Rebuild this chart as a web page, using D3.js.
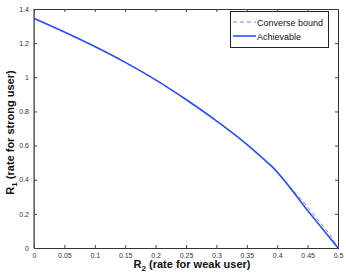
<!DOCTYPE html>
<html><head><meta charset="utf-8">
<script src="https://cdn.jsdelivr.net/npm/d3@7"></script>
<style>body{margin:0;background:#fff}svg{display:block}text{font-family:"Liberation Sans",Arial,sans-serif}</style>
</head><body>
<svg id="c" width="346" height="274"></svg>
<script>
const xTicks = [0,0.05,0.1,0.15,0.2,0.25,0.3,0.35,0.4,0.45,0.5];
const yTicks = [0,0.2,0.4,0.6,0.8,1,1.2,1.4];
const achX = [0,0.05,0.1,0.15,0.2,0.25,0.3,0.35,0.375,0.392,0.45,0.5];
const achY = [1.345,1.265,1.18,1.0875,0.985,0.87,0.745,0.6075,0.53,0.475,0.22,0];
const convX = [0,0.05,0.1,0.15,0.2,0.25,0.3,0.35,0.375,0.392,0.41,0.43,0.45,0.47,0.49,0.5];
const convY = [1.345,1.265,1.18,1.0875,0.985,0.87,0.745,0.6075,0.53,0.475,0.402,0.322,0.24,0.152,0.06,0];
const legendLabels = ["Converse bound","Achievable"];

const svg = d3.select("#c");
const L=34, R=338, T=9, B=248;
const x = d3.scaleLinear().domain([0,0.5]).range([L,R]);
const y = d3.scaleLinear().domain([0,1.4]).range([B,T]);

// frame
svg.append("rect").attr("x",L).attr("y",T).attr("width",R-L).attr("height",B-T)
  .attr("fill","none").attr("stroke","#333").attr("stroke-width",1).attr("shape-rendering","crispEdges");
svg.append("line").attr("x1",L).attr("x2",L).attr("y1",T).attr("y2",B).attr("stroke","#777").attr("stroke-width",1.5);

// axes
const fmt = d => String(d);
const gx = svg.append("g").attr("transform",`translate(0,${B})`)
  .call(d3.axisBottom(x).tickValues(xTicks).tickFormat(fmt).tickSizeInner(-3).tickSizeOuter(0).tickPadding(5));
const gxt = svg.append("g").attr("transform",`translate(0,${T})`)
  .call(d3.axisTop(x).tickValues(xTicks).tickFormat("").tickSizeInner(-3).tickSizeOuter(0));
const gy = svg.append("g").attr("transform",`translate(${L},0)`)
  .call(d3.axisLeft(y).tickValues(yTicks).tickFormat(fmt).tickSizeInner(-3).tickSizeOuter(0).tickPadding(5));
const gyr = svg.append("g").attr("transform",`translate(${R},0)`)
  .call(d3.axisRight(y).tickValues(yTicks).tickFormat("").tickSizeInner(-3).tickSizeOuter(0));
[gx,gxt,gy,gyr].forEach(g=>{
  g.select(".domain").remove();
  g.selectAll(".tick line").attr("stroke","#444");
  g.selectAll("text").attr("font-size",7).attr("fill","#333").attr("font-family","Liberation Sans, Arial, sans-serif");
});

// lines
const line = d3.line().x(d=>x(d[0])).y(d=>y(d[1])).curve(d3.curveMonotoneX);
const conv = convX.map((v,i)=>[v,convY[i]]);
const ach = achX.map((v,i)=>[v,achY[i]]);
svg.append("path").attr("d",line(conv)).attr("fill","none").attr("stroke","#6f86ff").attr("stroke-width",1).attr("stroke-dasharray","4,3");
svg.append("path").attr("d",line(ach)).attr("fill","none").attr("stroke","#2a4dff").attr("stroke-width",1.6);

// axis labels
const xl = svg.append("text").attr("x",(L+R)/2+6).attr("y",268).attr("text-anchor","middle")
  .attr("font-size",11).attr("font-weight","bold").attr("fill","#111");
xl.append("tspan").text("R");
xl.append("tspan").attr("font-size",8).attr("dy",3).text("2");
xl.append("tspan").attr("dy",-3).text(" (rate for weak user)");

const yl = svg.append("text").attr("transform",`translate(14,${(T+B)/2+4}) rotate(-90)`).attr("text-anchor","middle")
  .attr("font-size",11).attr("font-weight","bold").attr("fill","#111");
yl.append("tspan").text("R");
yl.append("tspan").attr("font-size",8).attr("dy",3).text("1");
yl.append("tspan").attr("dy",-3).text(" (rate for strong user)");

// legend
const lg = svg.append("g");
lg.append("rect").attr("x",230.5).attr("y",11.5).attr("width",98).attr("height",36)
  .attr("fill","#fff").attr("stroke","#222").attr("stroke-width",1);
const styles = [{c:"#6f86ff",w:1,d:"4,3"},{c:"#2a4dff",w:1.6,d:null}];
legendLabels.forEach((t,i)=>{
  const yy = 22 + i*14;
  const l = lg.append("line").attr("x1",233).attr("x2",256).attr("y1",yy).attr("y2",yy)
    .attr("stroke",styles[i].c).attr("stroke-width",styles[i].w);
  if(styles[i].d) l.attr("stroke-dasharray",styles[i].d);
  lg.append("text").attr("x",257).attr("y",yy+3.5).attr("font-size",9).attr("fill","#111").text(t);
});
</script>
</body></html>
